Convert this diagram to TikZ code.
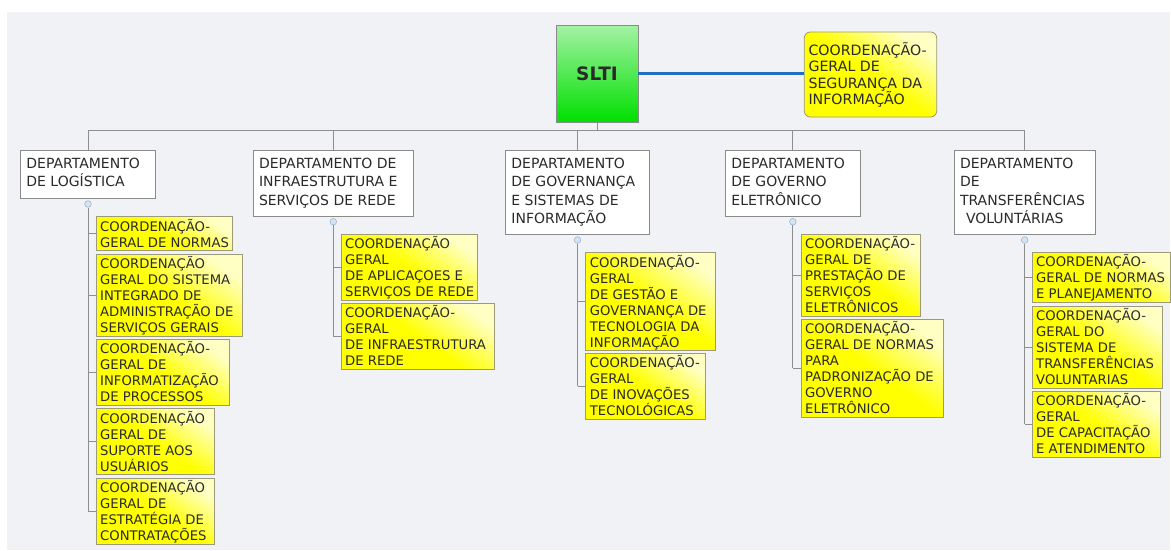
\documentclass[tikz,border=0pt]{standalone}
\usepackage{fontspec}
\setmainfont{DejaVu Sans}
\definecolor{bg}{HTML}{F1F2F6}
\definecolor{lin}{HTML}{8E8E8E}
\definecolor{dborder}{HTML}{8A8A8A}
\definecolor{yborder}{HTML}{9C9A78}
\definecolor{ypale}{HTML}{FFFFC4}
\definecolor{gtop}{HTML}{A4F2A4}
\definecolor{gbot}{HTML}{00E000}
\definecolor{blu}{HTML}{1F6FC6}
\definecolor{txt}{HTML}{2A2A2A}
\definecolor{circf}{HTML}{D6E4F2}
\definecolor{circd}{HTML}{9DB6D2}
\tikzset{
 ybox/.style={draw=yborder, line width=0.8pt, top color=ypale, bottom color=yellow, middle color=yellow, shading angle=-35, anchor=north west, inner sep=0pt, outer sep=0pt},
 ytxt/.style={anchor=north west, inner sep=0pt, align=left, font=\fontsize{13.2}{16}\selectfont, text=txt},
 dbox/.style={draw=dborder, line width=0.8pt, fill=white, anchor=north west, inner sep=0pt, outer sep=0pt},
 dtxt/.style={anchor=north west, inner sep=0pt, align=left, font=\fontsize{14}{18.3}\selectfont, text=txt},
 conn/.style={draw=lin, line width=0.9pt},
 knob/.style={circle, draw=circd, fill=circf, line width=0.6pt, minimum size=6.6pt, inner sep=0pt},
}
\newcommand\mkYbox[6]{%
  \node[ybox, minimum width=#4pt, minimum height=#5pt] (#1) at (#2,#3) {};
  \node[ytxt] (#1t) at ([xshift=4pt]#1.north west) {\rule{0pt}{14.3pt}#6};}
\newcommand\mkDbox[6]{%
  \node[dbox, minimum width=#4pt, minimum height=#5pt] (#1) at (#2,#3) {};
  \node[dtxt] (#1t) at ([xshift=5.5pt]#1.north west) {\rule{0pt}{17.7pt}#6};}
\begin{document}
\begin{tikzpicture}[x=1pt,y=-1pt]
\path[use as bounding box] (0,0) rectangle (1171,550);
\fill[white] (0,0) rectangle (1171,550);
\fill[bg] (7,12) rectangle (1170,550);

\node[draw=dborder, line width=0.8pt, top color=gtop, bottom color=gbot, minimum width=82pt, minimum height=97pt, anchor=north west, inner sep=0pt, outer sep=0pt, font=\fontsize{18.5}{20}\bfseries\selectfont, text=txt] (slti) at (556,25) {SLTI};

\node[ybox, rounded corners=6pt, minimum width=132.4pt, minimum height=85pt] (cgsi) at (804.3,32) {};
\node[ytxt, font=\fontsize{14.2}{16.4}\selectfont] (cgsit) at ([xshift=4pt]cgsi.north west) {\rule{0pt}{23.2pt}COORDENAÇÃO-\\GERAL DE\\SEGURANÇA DA\\INFORMAÇÃO};

\draw[blu, line width=2.6pt] (slti.east) -- (slti.east -| cgsi.west);

\mkDbox{d1}{20.7}{150.7}{134.6}{47.6}{DEPARTAMENTO\\DE LOGÍSTICA}
\mkDbox{d2}{253.3}{150.7}{160}{65.3}{DEPARTAMENTO DE\\INFRAESTRUTURA E\\SERVIÇOS DE REDE}
\mkDbox{d3}{505.7}{150.7}{143.6}{83.6}{DEPARTAMENTO\\DE GOVERNANÇA\\E SISTEMAS DE\\INFORMAÇÃO}
\mkDbox{d4}{725.7}{150.7}{134.3}{65.3}{DEPARTAMENTO\\DE GOVERNO\\ELETRÔNICO}
\mkDbox{d5}{954.3}{150.7}{140.7}{83.6}{DEPARTAMENTO\\DE\\TRANSFERÊNCIAS\\\hspace*{6pt}VOLUNTÁRIAS}

\mkYbox{y1a}{96}{216.7}{136.3}{34}{COORDENAÇÃO-\\GERAL DE NORMAS}
\mkYbox{y1b}{96}{254.3}{146.3}{82}{COORDENAÇÃO\\GERAL DO SISTEMA\\INTEGRADO DE\\ADMINISTRAÇÃO DE\\SERVIÇOS GERAIS}
\mkYbox{y1c}{96}{339.3}{133.3}{66}{COORDENAÇÃO-\\GERAL DE\\INFORMATIZAÇÃO\\DE PROCESSOS}
\mkYbox{y1d}{96}{408.7}{118.3}{66}{COORDENAÇÃO\\GERAL DE\\SUPORTE AOS\\USUÁRIOS}
\mkYbox{y1e}{96}{478}{118.3}{66}{COORDENAÇÃO\\GERAL DE\\ESTRATÉGIA DE\\CONTRATAÇÕES}
\mkYbox{y2a}{341}{234.3}{136.7}{66}{COORDENAÇÃO\\GERAL\\DE APLICAÇOES E\\SERVIÇOS DE REDE}
\mkYbox{y2b}{341}{303.3}{153.3}{66}{COORDENAÇÃO-\\GERAL\\DE INFRAESTRUTURA\\DE REDE}
\mkYbox{y3a}{585.7}{252.7}{129.6}{98}{COORDENAÇÃO-\\GERAL\\DE GESTÃO E\\GOVERNANÇA DE\\TECNOLOGIA DA\\INFORMAÇÃO}
\mkYbox{y3b}{585.7}{353.3}{119.3}{66}{COORDENAÇÃO-\\GERAL\\DE INOVAÇÕES\\TECNOLÓGICAS}
\mkYbox{y4a}{801}{234.3}{119.3}{82}{COORDENAÇÃO-\\GERAL DE\\PRESTAÇÃO DE\\SERVIÇOS\\ELETRÔNICOS}
\mkYbox{y4b}{801}{319.3}{142.7}{98}{COORDENAÇÃO-\\GERAL DE NORMAS\\PARA\\PADRONIZAÇÃO DE\\GOVERNO\\ELETRÔNICO}
\mkYbox{y5a}{1032}{252.3}{138}{50}{COORDENAÇÃO-\\GERAL DE NORMAS\\E PLANEJAMENTO}
\mkYbox{y5b}{1032}{306}{130.3}{82}{COORDENAÇÃO-\\GERAL DO\\SISTEMA DE\\TRANSFERÊNCIAS\\VOLUNTARIAS}
\mkYbox{y5c}{1032}{391}{128.7}{66}{COORDENAÇÃO-\\GERAL\\DE CAPACITAÇÃO\\E ATENDIMENTO}

\coordinate (bus) at (0,130);
\draw[conn] (slti.south) -- (slti.south |- bus);
\draw[conn] (d1.north |- bus) -- (d5.north |- bus);
\foreach \d in {d1,d2,d3,d4,d5} \draw[conn] (\d.north |- bus) -- (\d.north);

\foreach \i in {1,...,5} \node[knob] (k\i) at ([yshift=-5.7pt]d\i.south) {};

\draw[conn] (k1.south) -- (k1.south |- y1e.west);
\foreach \y in {y1a,y1b,y1c,y1d,y1e} \draw[conn] (k1.south |- \y.west) -- (\y.west);
\draw[conn] (k2.south) -- (k2.south |- y2b.west);
\foreach \y in {y2a,y2b} \draw[conn] (k2.south |- \y.west) -- (\y.west);
\draw[conn] (k3.south) -- (k3.south |- y3b.west);
\foreach \y in {y3a,y3b} \draw[conn] (k3.south |- \y.west) -- (\y.west);
\draw[conn] (k4.south) -- (k4.south |- y4b.west);
\foreach \y in {y4a,y4b} \draw[conn] (k4.south |- \y.west) -- (\y.west);
\draw[conn] (k5.south) -- (k5.south |- y5c.west);
\foreach \y in {y5a,y5b,y5c} \draw[conn] (k5.south |- \y.west) -- (\y.west);
\end{tikzpicture}
\end{document}
